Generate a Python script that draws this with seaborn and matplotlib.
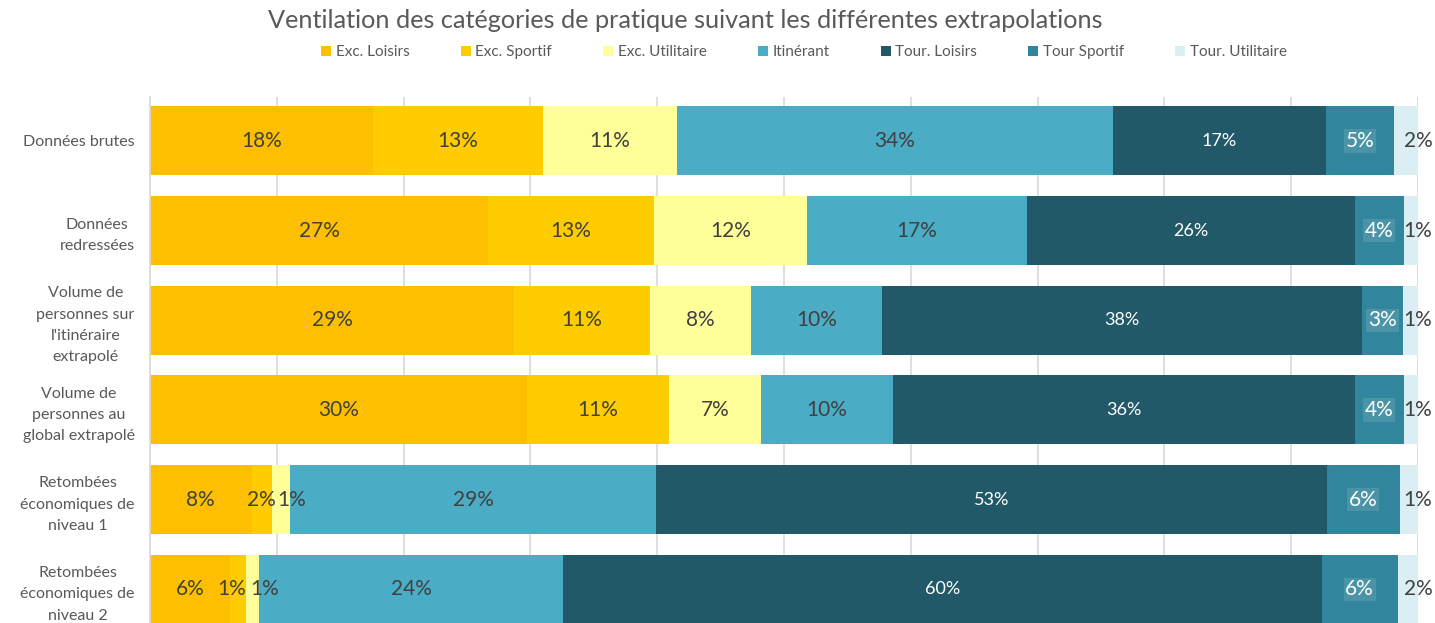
import numpy as np
import pandas as pd
import matplotlib
matplotlib.use("Agg")
import matplotlib.pyplot as plt
import seaborn as sns
from matplotlib.patches import Patch

# ---------------- data ----------------
categories = [
    "Données brutes",
    "Données\nredressées",
    "Volume de\npersonnes sur\nl'itinéraire\nextrapolé",
    "Volume de\npersonnes au\nglobal extrapolé",
    "Retombées\néconomiques de\nniveau 1",
    "Retombées\néconomiques de\nniveau 2",
]
series = ["Exc. Loisirs", "Exc. Sportif", "Exc. Utilitaire", "Itinérant",
          "Tour. Loisirs", "Tour Sportif", "Tour. Utilitaire"]

exc_loisirs = [17.6, 26.7, 28.7, 29.7, 8.0, 6.3]
exc_sportif = [13.4, 13.1, 10.7, 11.2, 1.6, 1.3]
exc_utilitaire = [10.6, 12.1, 8.0, 7.3, 1.4, 1.0]
itinerant = [34.4, 17.3, 10.3, 10.4, 28.9, 24.0]
tour_loisirs = [16.8, 25.9, 37.9, 36.4, 52.8, 59.9]
tour_sportif = [5.4, 3.9, 3.2, 3.9, 5.8, 6.0]
tour_utilitaire = [1.9, 1.1, 1.2, 1.1, 1.4, 1.6]

title = "Ventilation des catégories de pratique suivant les différentes extrapolations"

# ---------------- style ----------------
colors = ["#FDBF00", "#FFCC00", "#FFFF99", "#4BACC6", "#215968", "#31859C", "#DAEEF3"]
label_colors = ["#404040", "#404040", "#404040", "#404040", "white", "white", "#404040"]
label_sizes = [15, 15, 15, 15, 13, 15, 15]
label_box = [False, False, False, False, False, True, False]
label_at_end = [False, False, False, False, False, False, True]
# small horizontal nudges (points) used where labels would collide
nudges = {(4, 2): 8, (5, 1): -4.5, (5, 2): 8.5}
text_gray = "#595959"
grid_gray = "#D9D9D9"

sns.set_style("white")
plt.rcParams["font.family"] = ["Lato", "DejaVu Sans"]

vals = np.array([exc_loisirs, exc_sportif, exc_utilitaire, itinerant,
                 tour_loisirs, tour_sportif, tour_utilitaire], dtype=float).T
vals = vals / vals.sum(axis=1, keepdims=True) * 100.0
cum = np.cumsum(vals, axis=1)
n = len(categories)

fig = plt.figure(figsize=(14.35, 6.23), dpi=100)
ax = fig.add_axes([150 / 1435, 1 - 634 / 623, 1268 / 1435, 537 / 623])

for j in reversed(range(len(series))):
    df = pd.DataFrame({"cat": categories, "val": cum[:, j]})
    sns.barplot(data=df, x="val", y="cat", orient="h", color=colors[j],
                saturation=1, width=0.77, errorbar=None, ax=ax, zorder=2,
                linewidth=0, edgecolor="none")

for j in range(len(series)):
    for i in range(n):
        v = vals[i, j]
        xpos = cum[i, j] if label_at_end[j] else cum[i, j] - v / 2
        kw = {}
        if label_box[j]:
            kw["bbox"] = dict(boxstyle="square,pad=0.08", facecolor="white",
                              alpha=0.13, edgecolor="none")
        ax.annotate(f"{v:.0f}%", xy=(xpos, i), xytext=(nudges.get((i, j), 0), 0),
                    textcoords="offset points", ha="center", va="center",
                    color=label_colors[j], fontsize=label_sizes[j],
                    annotation_clip=False, zorder=5, **kw)

ax.set_xlim(0, 100)
ax.set_ylim(n - 0.5, -0.49)
ax.set_xticks(np.arange(0, 101, 10))
ax.set_xticklabels([])
ax.tick_params(axis="x", length=0)
ax.tick_params(axis="y", length=0, pad=11, labelsize=11.5, labelcolor=text_gray)
for t in ax.get_yticklabels():
    t.set_multialignment("center")
    t.set_linespacing(1.66)
ax.set_xlabel("")
ax.set_ylabel("")
ax.grid(axis="x", color=grid_gray, linewidth=1.2, zorder=0)
ax.set_axisbelow(True)
for s in ["top", "right", "bottom"]:
    ax.spines[s].set_visible(False)
ax.spines["left"].set_color(grid_gray)
ax.spines["left"].set_linewidth(1.2)

fig.text(685 / 1435, 1 - 20 / 623, title, ha="center", va="center",
         fontsize=18.2, color=text_gray)

handles = [Patch(facecolor=c, edgecolor="none", label=s) for c, s in zip(colors, series)]
fig.legend(handles=handles, loc="center", bbox_to_anchor=(804 / 1435, 1 - 52 / 623),
           ncol=len(series), frameon=False, fontsize=11, labelcolor=text_gray,
           handlelength=0.65, handleheight=0.65, handletextpad=0.3,
           columnspacing=3.35, borderaxespad=0)

fig.savefig("out.png", dpi=100)
